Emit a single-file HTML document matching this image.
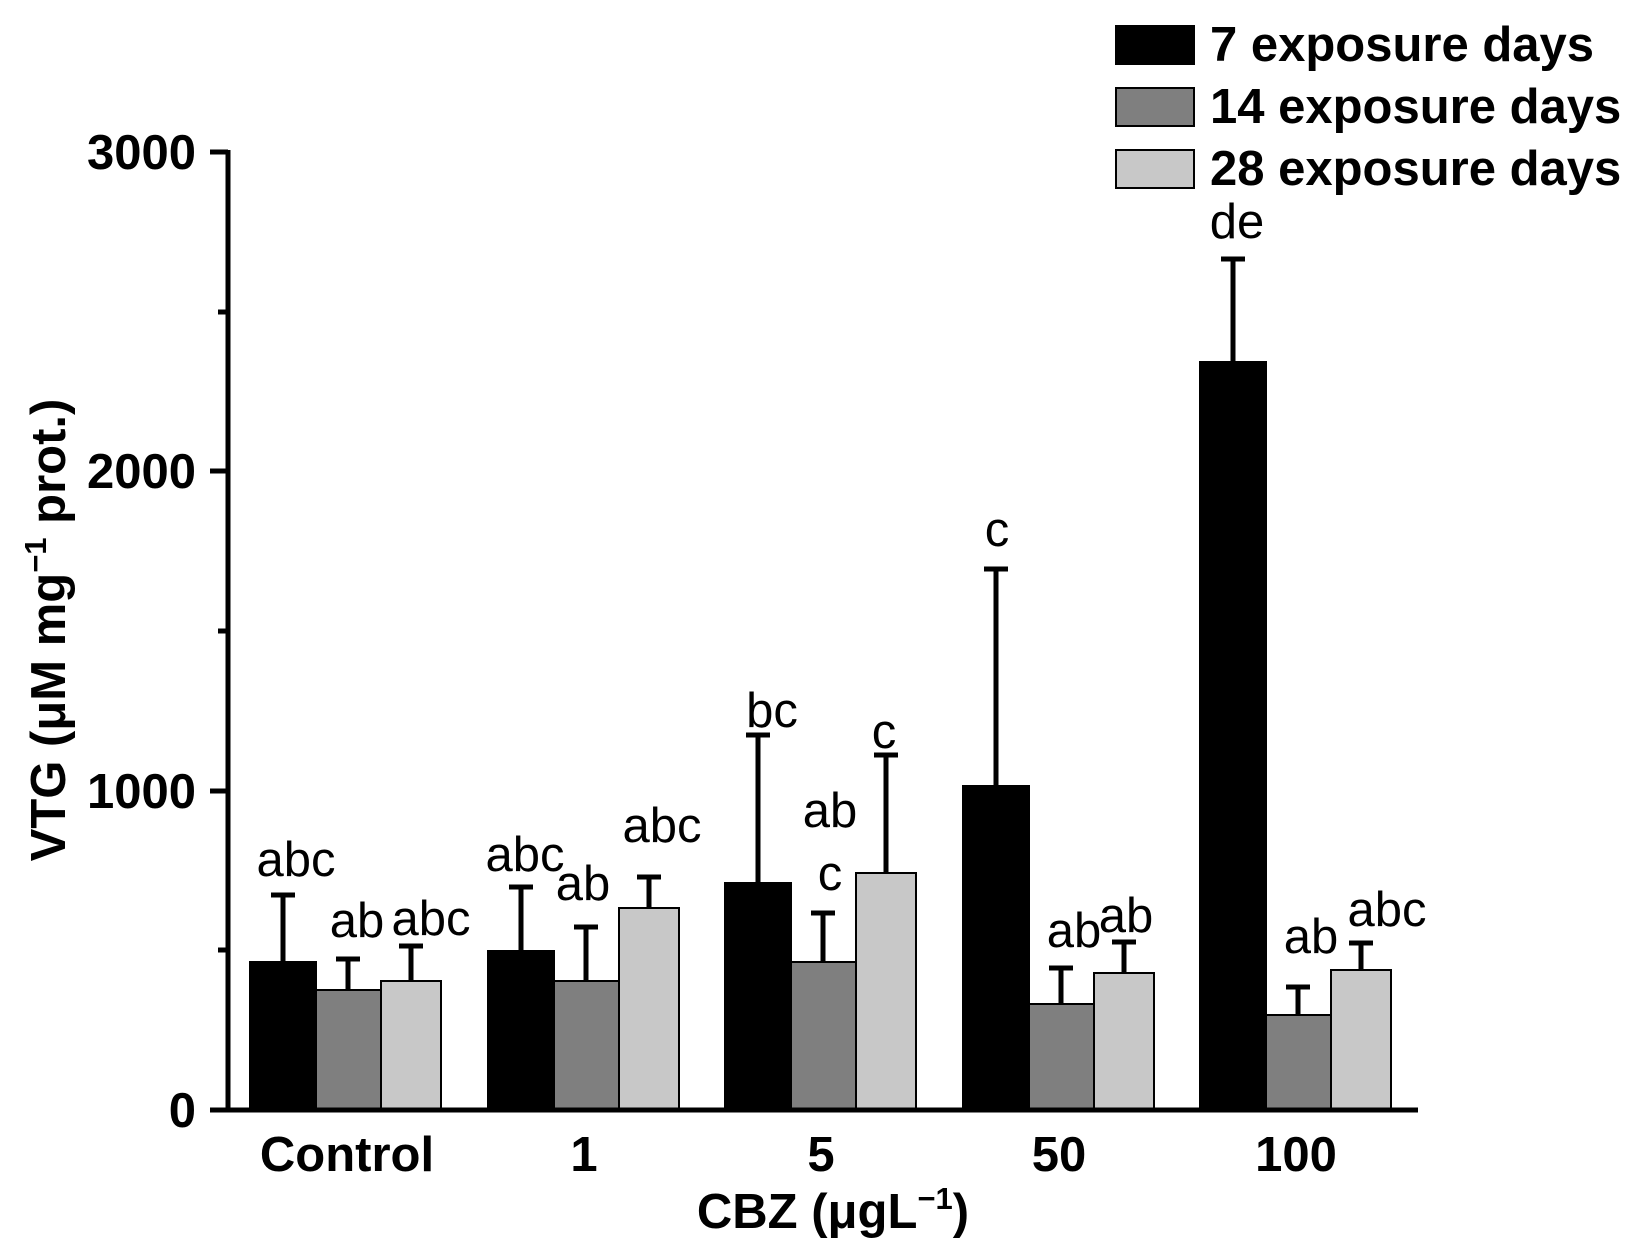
<!DOCTYPE html>
<html><head><meta charset="utf-8"><style>
html,body{margin:0;padding:0;background:#fff;}
svg{display:block;}
text{font-family:"Liberation Sans",Arial,sans-serif;}
.t{font-weight:bold;font-size:49px;}
.a{font-size:49px;}
</style></head><body>
<svg width="1647" height="1257" viewBox="0 0 1647 1257" xmlns="http://www.w3.org/2000/svg">
<rect width="1647" height="1257" fill="#fff"/>
<g stroke="#000" stroke-width="2">
<rect x="250" y="962" width="66" height="148" fill="#000"/>
<rect x="316" y="990" width="65" height="120" fill="#7f7f7f"/>
<rect x="381" y="981" width="60" height="129" fill="#c8c8c8"/>
<rect x="488" y="951" width="66" height="159" fill="#000"/>
<rect x="554" y="981" width="65" height="129" fill="#7f7f7f"/>
<rect x="619" y="908" width="60" height="202" fill="#c8c8c8"/>
<rect x="725" y="883" width="66" height="227" fill="#000"/>
<rect x="791" y="962" width="65" height="148" fill="#7f7f7f"/>
<rect x="856" y="873" width="60" height="237" fill="#c8c8c8"/>
<rect x="963" y="786" width="66" height="324" fill="#000"/>
<rect x="1029" y="1004" width="65" height="106" fill="#7f7f7f"/>
<rect x="1094" y="973" width="60" height="137" fill="#c8c8c8"/>
<rect x="1200" y="362" width="66" height="748" fill="#000"/>
<rect x="1266" y="1015" width="65" height="95" fill="#7f7f7f"/>
<rect x="1331" y="970" width="60" height="140" fill="#c8c8c8"/>
</g>
<g stroke="#000" stroke-width="5" fill="none">
<path d="M283 962V895M271 895h24"/>
<path d="M348 990V959M336 959h24"/>
<path d="M411 981V946M399 946h24"/>
<path d="M521 951V887M509 887h24"/>
<path d="M586 981V927M574 927h24"/>
<path d="M649 908V877M637 877h24"/>
<path d="M758 883V735M746 735h24"/>
<path d="M823 962V913M811 913h24"/>
<path d="M886 873V755M874 755h24"/>
<path d="M996 786V569M984 569h24"/>
<path d="M1061 1004V968M1049 968h24"/>
<path d="M1124 973V942M1112 942h24"/>
<path d="M1233 362V259M1221 259h24"/>
<path d="M1298 1015V987M1286 987h24"/>
<path d="M1361 970V943M1349 943h24"/>
</g>
<g stroke="#000" stroke-width="5">
<line x1="228" y1="150" x2="228" y2="1112"/>
<line x1="210" y1="1110" x2="1418" y2="1110"/>
<line x1="210" y1="152" x2="228" y2="152"/>
<line x1="210" y1="471" x2="228" y2="471"/>
<line x1="210" y1="791" x2="228" y2="791"/>
<line x1="218" y1="312" x2="228" y2="312"/>
<line x1="218" y1="631" x2="228" y2="631"/>
<line x1="218" y1="950" x2="228" y2="950"/>
</g>
<g class="t" text-anchor="end">
<text x="196" y="169">3000</text>
<text x="196" y="488">2000</text>
<text x="196" y="808">1000</text>
<text x="196" y="1127">0</text>
</g>
<g class="t" text-anchor="middle">
<text x="347" y="1171">Control</text>
<text x="584" y="1171">1</text>
<text x="821" y="1171">5</text>
<text x="1059" y="1171">50</text>
<text x="1296" y="1171">100</text>
<text x="833" y="1228">CBZ (μgL<tspan font-size="31" dy="-19">−1</tspan><tspan dy="19">)</tspan></text>
</g>
<text class="t" text-anchor="middle" transform="translate(65,630) rotate(-90)">VTG (μM mg<tspan font-size="31" dy="-19">−1</tspan><tspan dy="19"> prot.)</tspan></text>
<g class="a" text-anchor="middle">
<text x="296" y="876">abc</text>
<text x="357" y="937">ab</text>
<text x="431" y="935">abc</text>
<text x="525" y="871">abc</text>
<text x="583" y="900">ab</text>
<text x="662" y="842">abc</text>
<text x="772" y="727">bc</text>
<text x="830" y="827">ab</text>
<text x="830" y="890">c</text>
<text x="884" y="748">c</text>
<text x="997" y="546">c</text>
<text x="1074" y="947">ab</text>
<text x="1126" y="932">ab</text>
<text x="1237" y="238">de</text>
<text x="1311" y="953">ab</text>
<text x="1387" y="926">abc</text>
</g>
<g stroke="#000" stroke-width="2">
<rect x="1116" y="26" width="78" height="38" fill="#000"/>
<rect x="1116" y="88" width="78" height="38" fill="#7f7f7f"/>
<rect x="1116" y="150" width="78" height="38" fill="#c8c8c8"/>
</g>
<g class="t">
<text x="1210" y="61">7 exposure days</text>
<text x="1210" y="123">14 exposure days</text>
<text x="1210" y="185">28 exposure days</text>
</g>
</svg>
</body></html>
